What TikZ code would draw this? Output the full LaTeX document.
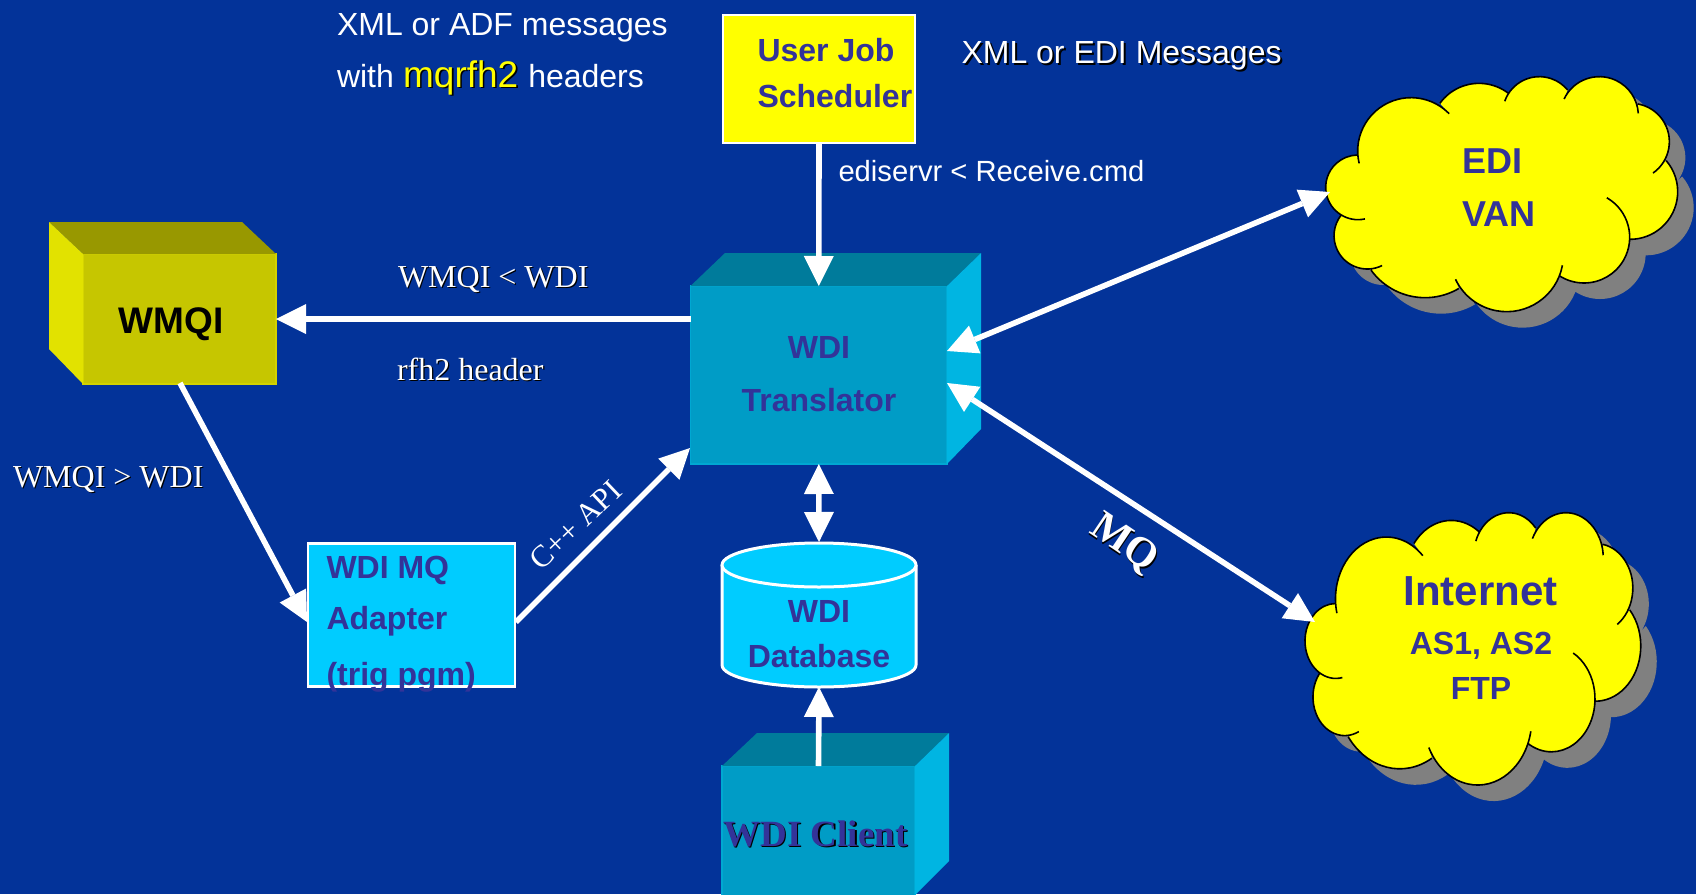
\documentclass[tikz,border=0pt]{standalone}
\usepackage{fontspec}
\setmainfont{Liberation Sans}
\newfontfamily\serifx{Liberation Serif}
\usetikzlibrary{arrows.meta}
\definecolor{bgblue}{RGB}{3,51,153}
\definecolor{ink}{RGB}{51,51,153}
\definecolor{yel}{RGB}{255,255,0}
\definecolor{gry}{RGB}{128,128,128}
\definecolor{cubeF}{RGB}{0,156,198}
\definecolor{cubeE}{RGB}{0,168,210}
\definecolor{cubeT}{RGB}{0,123,155}
\definecolor{cubeS}{RGB}{0,181,226}
\definecolor{wmqF}{RGB}{198,198,0}
\definecolor{wmqE}{RGB}{210,210,0}
\definecolor{wmqT}{RGB}{152,152,0}
\definecolor{wmqS}{RGB}{226,226,0}
\definecolor{skyb}{RGB}{0,204,255}
\newcommand\fs[1]{\fontsize{#1}{#1}\selectfont}
\newcommand\shad[2][1pt]{\leavevmode\rlap{\kern#1\raisebox{-#1}{\color{black}#2}}#2}
% one lobe of a cloud: centre x, centre y, radius, start angle, end angle
\newcommand\lobe[5]{({#1+#3*cos(#4)},{#2+#3*sin(#4)}) arc[start angle=#4,end angle=#5,radius=#3]}
\newcommand\cloudp[1]{
 \lobe{393}{303}{160}{166.6}{315.7} #1
 \lobe{597}{245}{145}{216}{307.4} #1
 \lobe{778}{190}{110}{199.3}{320.4} #1
 \lobe{958}{197}{117}{205.3}{356.6} #1
 \lobe{1053}{275}{115}{280.3}{415} #1
 \lobe{1050}{425}{143}{319.3}{450} #1
 \lobe{912}{562}{137}{300}{483.1} #1
 \lobe{680}{615}{170}{10.5}{154.6} #1
 \lobe{435}{543}{200}{59.6}{144.1} #1
 \lobe{262}{557}{100}{63.7}{218.7} #1
 \lobe{234}{412}{97}{77.7}{268.8}
}
\tikzset{
 px/.style={x=0.5pt,y=-0.5pt},
 lab/.style={inner sep=0pt,outer sep=0pt,anchor=base west,text=white},
 inkc/.style={inner sep=0pt,outer sep=0pt,anchor=base,text=ink,font=\bfseries\fs{16}},
 inkl/.style={inner sep=0pt,outer sep=0pt,anchor=base west,text=ink,font=\bfseries\fs{16}},
 serlab/.style={lab,font=\serifx\fs{16}},
 face/.style={inner sep=0pt,outer sep=0pt,line width=.6pt},
 flow/.style={white,line width=2.8pt,-{Triangle[width=15pt,length=15pt,line width=0pt]}},
 flowb/.style={white,line width=2.8pt,{Triangle[width=15pt,length=15pt,line width=0pt]}-{Triangle[width=15pt,length=15pt,line width=0pt]}},
 cloudline/.style={draw=black,line width=.8pt},
}
\begin{document}
\begin{tikzpicture}[px]
\useasboundingbox (0,0) rectangle (1696,894);
\fill[bgblue] (0,0) rectangle (1696,894);

% clouds
\begin{scope}[shift={(1296,66)},x=.16667pt,y=-.16667pt]\fill[gry] \cloudp{--};\end{scope}
\begin{scope}[shift={(1280,50)},x=.16667pt,y=-.16667pt]
 \fill[yel] \cloudp{--};
 \path[cloudline] \cloudp{};
\end{scope}
\begin{scope}[shift={(1277.4,497.8)},x=.159pt,y=-.19315pt]\fill[gry] \cloudp{--};\end{scope}
\begin{scope}[shift={(1261.4,481.8)},x=.159pt,y=-.19315pt]
 \fill[yel] \cloudp{--};
 \path[cloudline] \cloudp{};
\end{scope}
\coordinate (ediPort) at (1330,192);
\coordinate (netPort) at (1315,622);

% WMQI cube
\node[face,draw=wmqE,fill=wmqF,minimum width=96.5pt,minimum height=65pt] (wmqi) at (179.5,319) {};
\fill[wmqT] (wmqi.north west) -- (49,222) -- (242,222) -- (wmqi.north east) -- cycle;
\fill[wmqS] (wmqi.north west) -- (49,222) -- (49,349) -- (wmqi.south west) -- cycle;

% Translator cube
\node[face,draw=cubeE,fill=cubeF,minimum width=128.25pt,minimum height=89pt] (trans) at (818.75,375) {};
\fill[cubeT] (trans.north west) -- (725,253) -- (981,253) -- (trans.north east) -- cycle;
\fill[cubeS] (trans.north east) -- (981,253) -- (981,429) -- (trans.south east) -- cycle;
\coordinate (transE1) at (947,351);
\coordinate (transE2) at (947,383);

% Client cube
\node[face,draw=cubeE,fill=cubeF,minimum width=96.5pt,minimum height=65pt] (client) at (818.5,831) {};
\fill[cubeT] (client.north west) -- (757,733) -- (949,733) -- (client.north east) -- cycle;
\fill[cubeS] (client.north east) -- (949,733) -- (949,861) -- (915,895) -- cycle;

% WMQI to adapter arrow lies under the adapter box
\coordinate (adaptIn) at (307,622);
\coordinate (adaptOut) at (516,622);
\coordinate (transSW) at (690,448);
\coordinate (wmqiOut) at (180,383);
\draw[flow] (wmqiOut) -- (adaptIn);

% Scheduler
\node[face,draw=white,line width=1.25pt,fill=yel,minimum width=96pt,minimum height=64pt] (sched) at (819,79) {};

% Adapter
\node[face,draw=white,line width=1.25pt,fill=skyb,minimum width=103.5pt,minimum height=71.5pt] (adapter) at (411.5,615) {};

% Database
\node[inner sep=0pt,outer sep=0pt,minimum width=97pt,minimum height=72.5pt] (db) at (819,614.5) {};
\path[fill=skyb] (722,565) -- (722,665) arc[start angle=180,end angle=0,x radius=97,y radius=22] -- (916,565) -- cycle;
\path[draw=white,line width=1.5pt,line join=round] (722,565) -- (722,665) arc[start angle=180,end angle=0,x radius=97,y radius=22] -- (916,565);
\path[draw=white,line width=1.5pt,fill=skyb] (819,565) ellipse [x radius=97,y radius=22];

% connectors
\draw[flow] (sched.south) -- (trans.north);
\draw[flow] (trans.west |- wmqi.east) -- (wmqi.east);
\draw[flow] (adaptOut) -- (transSW);
\draw[flowb] (trans.south) -- (db.north);
\draw[flow] (client.north) -- (db.south);
\draw[flowb] (transE1) -- (ediPort);
\draw[flowb] (transE2) -- (netPort);

% labels
\node[lab,font=\fs{16}] (t1) at (337,35) {XML or ADF messages};
\node[lab,font=\fs{16}] (t2) at (337,87) {with\kern4.6pt{\fs{18.5}\color{yel}\shad[.8pt]{mqrfh2}}\kern5pt headers};
\node[lab,font=\fs{16}] (t3) at (961.5,63) {\shad{XML or EDI Messages}};
\node[lab,font=\fs{14.6}] (t4) at (838.5,181) {ediservr < Receive.cmd};
\node[inkl] (s1) at (757.5,61) {User Job};
\node[inkl] (s2) at (757.5,107) {Scheduler};
\node[serlab] (l1) at (398,287) {\shad[.6pt]{WMQI < WDI}};
\node[serlab] (l2) at (397,380) {\shad[.6pt]{rfh2 header}};
\node[serlab] (l3) at (13,487) {\shad[.6pt]{WMQI > WDI}};
\node[serlab,font=\serifx\fs{15.5},rotate=43.6] (l4) at (541.7,571.7) {C++ API};
\node[serlab,font=\serifx\bfseries\fs{21},rotate=-34] (l5) at (1088,532) {\shad[.8pt]{MQ}};
\node[inner sep=0pt,outer sep=0pt,anchor=base,text=black,font=\bfseries\fs{18.5}] (w1) at (171,333) {WMQI};
\node[inkc] (tr1) at (819,358) {WDI};
\node[inkc] (tr2) at (819,411) {Translator};
\node[inkc] (db1) at (819,622) {WDI};
\node[inkc] (db2) at (819,667) {Database};
\node[inkl] (a1) at (326.5,578) {WDI MQ};
\node[inkl] (a2) at (326.5,629) {Adapter};
\node[inkl] (a3) at (326.5,685) {(trig pgm)};
\node[inner sep=0pt,outer sep=0pt,anchor=base,text=ink,font=\serifx\bfseries\fs{18.5}] (c1) at (815.5,846) {\shad[.7pt]{WDI Client}};
\node[inkl,font=\bfseries\fs{18}] (e1) at (1462.5,173) {EDI};
\node[inkl,font=\bfseries\fs{18}] (e2) at (1462,226) {VAN};
\node[inkc,font=\bfseries\fs{21}] (n1) at (1480.5,605) {Internet};
\node[inkc] (n2) at (1481,654) {AS1, AS2};
\node[inkc] (n3) at (1481,699) {FTP};
\end{tikzpicture}
\end{document}
